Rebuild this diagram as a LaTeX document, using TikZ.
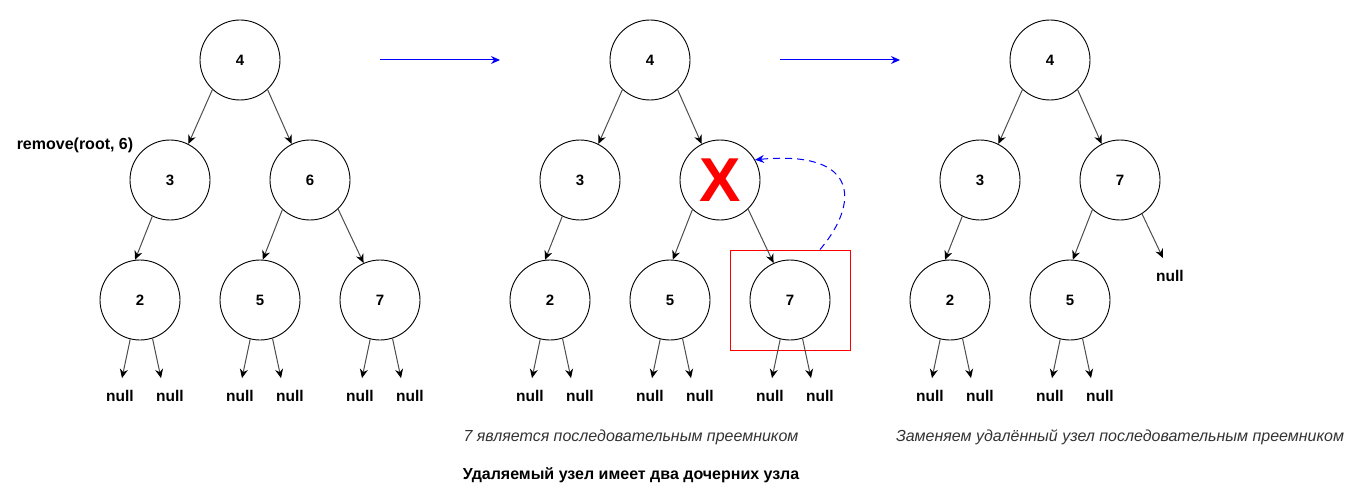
\documentclass[tikz,border=0pt]{standalone}
\usepackage{fontspec}
\setmainfont{Liberation Sans}
\usetikzlibrary{arrows.meta,positioning,calc}
\definecolor{edgegray}{HTML}{4D4D4D}
\definecolor{movblue}{HTML}{0000FF}
\definecolor{capgray}{HTML}{333333}
\definecolor{delred}{HTML}{FF0000}

\begin{document}
\begin{tikzpicture}[x=1pt, y=-1pt,
  vert/.style={circle, draw, line width=0.9pt, minimum size=80pt, inner sep=0pt, font=\fontsize{15}{17}\selectfont\bfseries},
  nil/.style={inner sep=0pt, font=\fontsize{15.5}{17}\selectfont\bfseries},
  arr/.style={-{Stealth[length=9pt, width=8pt, color=black]}, line width=1pt, edgegray},
  mov/.style={-{Stealth[length=9pt, width=8pt]}, line width=1pt, movblue},
  captext/.style={font=\fontsize{16}{19}\selectfont\itshape, text=capgray}
]
  \useasboundingbox (0,0) rectangle (1360,500);

  % first tree
  \node[vert] (t1root) at (240,60) {4};
  \node[vert] (t1l) at (170,180) {3};
  \node[vert] (t1r) at (310,180) {6};
  \node[vert] (t1ll) at (140,300) {2};
  \node[vert] (t1rl) at (260,300) {5};
  \node[vert] (t1rr) at (380,300) {7};
  \node[font=\fontsize{16}{19}\selectfont\bfseries] (t1call) at (75,145) {remove(root, 6)};
  \node[nil] (t1n1) at (120,396) {null};
  \node[nil] (t1n2) at (170,396) {null};
  \node[nil] (t1n3) at (240,396) {null};
  \node[nil] (t1n4) at (290,396) {null};
  \node[nil] (t1n5) at (360,396) {null};
  \node[nil] (t1n6) at (410,396) {null};

  \draw[arr] (t1root.227) -- (t1l.63);
  \draw[arr] (t1root.-47) -- (t1r.117);
  \draw[arr] (t1l.244) -- (t1ll.97);
  \draw[arr] (t1r.227) -- (t1rl.86);
  \draw[arr] (t1r.314) -- (t1rr.114);
  \draw[arr] (t1ll.256) -- ([xshift=2pt,yshift=12pt]t1n1.north);
  \draw[arr] (t1ll.288) -- ([xshift=-9pt,yshift=12pt]t1n2.north);
  \draw[arr] (t1rl.256) -- ([xshift=2pt,yshift=12pt]t1n3.north);
  \draw[arr] (t1rl.288) -- ([xshift=-9pt,yshift=12pt]t1n4.north);
  \draw[arr] (t1rr.256) -- ([xshift=2pt,yshift=12pt]t1n5.north);
  \draw[arr] (t1rr.288) -- ([xshift=-9pt,yshift=12pt]t1n6.north);

  \coordinate (go1a) at (380,60);
  \coordinate (go1b) at (500,60);
  \draw[mov] (go1a) -- (go1b);

  % second tree
  \node[vert] (t2root) at (650,60) {4};
  \node[vert] (t2l) at (580,180) {3};
  \node[vert, font=\fontsize{62}{62}\selectfont\bfseries, text=delred] (t2x) at (720,180) {X};
  \node[vert] (t2ll) at (550,300) {2};
  \node[vert] (t2rl) at (670,300) {5};
  \node[vert] (t2rr) at (790,300) {7};
  \node[draw=delred, line width=0.9pt, minimum width=120pt, minimum height=100pt] (hl) at (790,300) {};
  \node[nil] (t2n1) at (530,396) {null};
  \node[nil] (t2n2) at (580,396) {null};
  \node[nil] (t2n3) at (650,396) {null};
  \node[nil] (t2n4) at (700,396) {null};
  \node[nil] (t2n5) at (770,396) {null};
  \node[nil] (t2n6) at (820,396) {null};

  \draw[arr] (t2root.227) -- (t2l.63);
  \draw[arr] (t2root.-47) -- (t2x.117);
  \draw[arr] (t2l.244) -- (t2ll.97);
  \draw[arr] (t2x.227) -- (t2rl.86);
  \draw[arr] (t2x.314) -- (t2rr.114);
  \draw[arr] (t2ll.256) -- ([xshift=2pt,yshift=12pt]t2n1.north);
  \draw[arr] (t2ll.288) -- ([xshift=-9pt,yshift=12pt]t2n2.north);
  \draw[arr] (t2rl.256) -- ([xshift=2pt,yshift=12pt]t2n3.north);
  \draw[arr] (t2rl.288) -- ([xshift=-9pt,yshift=12pt]t2n4.north);
  \draw[arr] (t2rr.256) -- ([xshift=2pt,yshift=12pt]t2n5.north);
  \draw[arr] (t2rr.288) -- ([xshift=-9pt,yshift=12pt]t2n6.north);
  \draw[mov, dash pattern=on 7pt off 5pt] ([xshift=30pt]hl.north) .. controls (858,205) and (862,150) .. (t2x.30);

  \node[captext] (cap1) at (631,437) {7 является последовательным преемником};
  \node[font=\fontsize{16}{19}\selectfont\bfseries] (title) at (631,475) {Удаляемый узел имеет два дочерних узла};

  \coordinate (go2a) at (780,60);
  \coordinate (go2b) at (900,60);
  \draw[mov] (go2a) -- (go2b);

  % third tree
  \node[vert] (t3root) at (1050,60) {4};
  \node[vert] (t3l) at (980,180) {3};
  \node[vert] (t3r) at (1120,180) {7};
  \node[vert] (t3ll) at (950,300) {2};
  \node[vert] (t3rl) at (1070,300) {5};
  \node[nil] (t3n0) at (1170,276) {null};
  \node[nil] (t3n1) at (930,396) {null};
  \node[nil] (t3n2) at (980,396) {null};
  \node[nil] (t3n3) at (1050,396) {null};
  \node[nil] (t3n4) at (1100,396) {null};

  \draw[arr] (t3root.227) -- (t3l.63);
  \draw[arr] (t3root.-47) -- (t3r.117);
  \draw[arr] (t3l.244) -- (t3ll.97);
  \draw[arr] (t3r.227) -- (t3rl.86);
  \draw[arr] (t3r.303) -- ([xshift=-7pt,yshift=12pt]t3n0.north);
  \draw[arr] (t3ll.256) -- ([xshift=2pt,yshift=12pt]t3n1.north);
  \draw[arr] (t3ll.288) -- ([xshift=-9pt,yshift=12pt]t3n2.north);
  \draw[arr] (t3rl.256) -- ([xshift=2pt,yshift=12pt]t3n3.north);
  \draw[arr] (t3rl.288) -- ([xshift=-9pt,yshift=12pt]t3n4.north);

  \node[captext] (cap2) at (1120,437) {Заменяем удалённый узел последовательным преемником};
\end{tikzpicture}
\end{document}
